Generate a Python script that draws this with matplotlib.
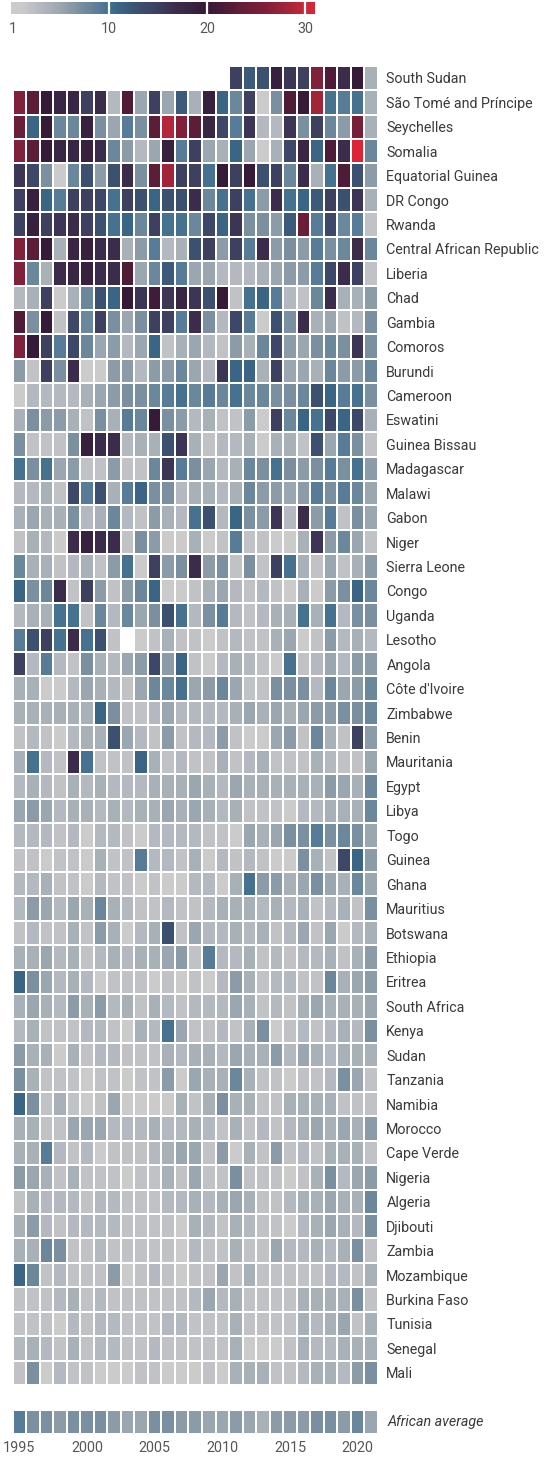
import numpy as np
import matplotlib
matplotlib.use("Agg")
import matplotlib.pyplot as plt
from matplotlib.colors import LinearSegmentedColormap
from matplotlib import font_manager

nan = np.nan
years = list(range(1995, 2022))
year_ticks = [1995, 2000, 2005, 2010, 2015, 2020]

countries = [
    "South Sudan", "São Tomé and Príncipe", "Seychelles", "Somalia",
    "Equatorial Guinea", "DR Congo", "Rwanda", "Central African Republic",
    "Liberia", "Chad", "Gambia", "Comoros", "Burundi", "Cameroon", "Eswatini",
    "Guinea Bissau", "Madagascar", "Malawi", "Gabon", "Niger", "Sierra Leone",
    "Congo", "Uganda", "Lesotho", "Angola", "Côte d'Ivoire", "Zimbabwe",
    "Benin", "Mauritania", "Egypt", "Libya", "Togo", "Guinea", "Ghana",
    "Mauritius", "Botswana", "Ethiopia", "Eritrea", "South Africa", "Kenya",
    "Sudan", "Tanzania", "Namibia", "Morocco", "Cape Verde", "Nigeria",
    "Algeria", "Djibouti", "Zambia", "Mozambique", "Burkina Faso", "Tunisia",
    "Senegal", "Mali",
]

# one row per country, 1995..2021
scores = [
    [nan]*16 + [15, 12, 13, 19, 16, 15, 26, 22, 17, 20, 4],
    [26, 23, 20, 18, 18, 15, 17, 3, 22, 5, 15, 5, 12, 4, 19, 11, 8, 15, 1, 7, 22, 20, 28, 10, 9, 10, 4],
    [24, 11, 20, 8, 8, 19, 7, 5, 9, 7, 23, 29, 26, 23, 18, 14, 9, 16, 3, 3, 16, 7, 15, 8, 6, 25, 4],
    [26, 23, 20, 18, 18, 19, 17, 8, 6, 3, 5, 19, 9, 15, 5, 4, 11, 5, 1, 4, 14, 18, 11, 22, 17, 31, 8],
    [16, 14, 7, 1, 8, 13, 6, 13, 17, 7, 23, 28, 15, 15, 10, 20, 15, 20, 13, 15, 8, 17, 4, 10, 22, 13, 6],
    [15, 19, 11, 9, 15, 15, 14, 10, 15, 13, 11, 13, 13, 17, 8, 10, 15, 10, 6, 17, 10, 11, 12, 15, 13, 16, 4],
    [15, 19, 15, 16, 17, 15, 13, 10, 11, 8, 15, 10, 10, 8, 14, 11, 16, 7, 7, 6, 12, 24, 9, 14, 8, 9, 2],
    [26, 23, 20, 4, 18, 19, 17, 17, 4, 6, 9, 3, 4, 13, 15, 6, 15, 9, 17, 6, 7, 6, 9, 7, 8, 17, 8],
    [26, 8, 4, 17, 18, 19, 17, 17, 22, 5, 8, 12, 9, 5, 5, 3, 3, 3, 4, 5, 6, 6, 9, 14, 17, 15, 2],
    [3, 4, 15, 1, 4, 8, 13, 11, 20, 16, 21, 16, 18, 16, 13, 20, 2, 10, 11, 9, 3, 2, 8, 17, 4, 4, 6],
    [22, 7, 20, 2, 14, 8, 15, 7, 5, 7, 15, 15, 9, 17, 7, 3, 14, 9, 1, 13, 7, 17, 4, 5, 2, 3, 7],
    [26, 20, 15, 9, 14, 8, 5, 6, 3, 5, 11, 2, 4, 5, 3, 2, 6, 4, 8, 14, 6, 5, 7, 8, 7, 16, 7],
    [6, 2, 15, 7, 17, 1, 1, 6, 6, 3, 6, 6, 8, 5, 3, 16, 11, 11, 4, 15, 5, 5, 4, 8, 6, 6, 8],
    [1, 3, 3, 3, 3, 4, 5, 6, 7, 7, 8, 9, 10, 8, 9, 8, 10, 8, 8, 7, 7, 8, 13, 11, 9, 10, 7],
    [4, 7, 6, 6, 4, 2, 7, 4, 9, 8, 20, 7, 6, 3, 4, 2, 2, 6, 1, 15, 8, 11, 10, 14, 11, 14, 4],
    [7, 2, 2, 2, 7, 19, 17, 17, 3, 4, 4, 13, 16, 4, 2, 3, 3, 4, 1, 4, 4, 2, 13, 5, 9, 7, 2],
    [10, 7, 10, 5, 6, 2, 2, 6, 2, 2, 8, 16, 9, 7, 5, 3, 4, 8, 7, 10, 7, 6, 7, 9, 7, 10, 6],
    [3, 3, 4, 2, 14, 9, 13, 4, 9, 11, 7, 7, 3, 4, 4, 3, 4, 8, 6, 6, 5, 6, 9, 7, 9, 8, 5],
    [4, 5, 4, 4, 7, 3, 4, 8, 3, 2, 6, 4, 3, 10, 13, 3, 11, 7, 6, 16, 3, 17, 6, 9, 2, 7, 5],
    [2, 4, 3, 1, 17, 19, 17, 17, 2, 7, 6, 1, 1, 4, 1, 2, 9, 2, 2, 1, 1, 4, 16, 6, 8, 5, 2],
    [8, 4, 4, 2, 3, 4, 2, 6, 10, 1, 15, 6, 7, 17, 6, 7, 2, 7, 2, 15, 10, 4, 2, 5, 2, 4, 6],
    [11, 7, 8, 17, 2, 15, 6, 2, 6, 8, 11, 1, 1, 2, 4, 5, 3, 2, 3, 2, 1, 4, 1, 6, 7, 11, 8],
    [3, 4, 4, 10, 10, 2, 8, 3, 8, 5, 7, 13, 10, 3, 7, 9, 3, 2, 3, 4, 4, 10, 4, 10, 3, 7, 7],
    [9, 13, 15, 10, 17, 10, 13, 2, nan, 1, 2, 4, 2, 2, 1, 2, 3, 2, 2, 4, 5, 1, 2, 6, 3, 4, 3],
    [15, 3, 9, 3, 2, 7, 4, 3, 5, 6, 14, 6, 11, 2, 1, 3, 4, 3, 2, 1, 10, 2, 3, 5, 3, 6, 6],
    [4, 4, 1, 1, 3, 5, 4, 3, 2, 5, 8, 8, 10, 5, 6, 8, 5, 2, 2, 7, 7, 7, 3, 8, 5, 6, 8],
    [4, 4, 4, 4, 4, 4, 11, 7, 2, 2, 3, 5, 3, 3, 3, 3, 4, 5, 4, 5, 4, 5, 6, 6, 7, 7, 8],
    [2, 3, 2, 1, 3, 4, 4, 13, 5, 3, 2, 6, 2, 3, 3, 6, 2, 1, 1, 5, 6, 2, 8, 4, 2, 15, 6],
    [4, 10, 3, 2, 17, 10, 2, 2, 2, 11, 4, 2, 3, 2, 2, 4, 2, 3, 4, 2, 2, 2, 4, 3, 2, 2, 5],
    [3, 4, 3, 2, 4, 3, 4, 3, 3, 3, 4, 4, 4, 5, 4, 3, 5, 4, 4, 4, 4, 4, 4, 6, 5, 4, 8],
    [5, 6, 5, 3, 4, 4, 3, 4, 3, 4, 4, 5, 4, 5, 4, 3, 4, 2, 2, 2, 1, 3, 3, 4, 4, 4, 8],
    [3, 3, 3, 2, 3, 1, 3, 3, 2, 1, 3, 3, 3, 3, 2, 2, 1, 5, 4, 5, 7, 7, 9, 7, 8, 7, 5],
    [2, 2, 1, 2, 2, 1, 4, 2, 2, 9, 3, 3, 2, 4, 1, 3, 2, 3, 2, 1, 1, 7, 4, 2, 14, 11, 6],
    [3, 3, 4, 2, 2, 1, 3, 2, 2, 1, 2, 1, 1, 3, 3, 1, 4, 10, 6, 6, 4, 5, 7, 5, 4, 8, 5],
    [3, 6, 5, 3, 5, 4, 8, 4, 3, 2, 2, 3, 2, 2, 3, 4, 4, 4, 3, 4, 3, 4, 2, 3, 4, 2, 7],
    [2, 3, 2, 2, 4, 2, 6, 4, 1, 3, 4, 13, 2, 5, 3, 3, 4, 3, 4, 2, 3, 5, 2, 5, 1, 3, 4],
    [4, 4, 5, 3, 4, 2, 3, 4, 3, 4, 4, 5, 6, 2, 9, 3, 3, 4, 2, 3, 2, 3, 3, 4, 2, 4, 6],
    [11, 7, 5, 3, 4, 3, 1, 2, 2, 2, 1, 2, 1, 2, 1, 3, 6, 4, 2, 3, 3, 2, 2, 8, 4, 5, 6],
    [4, 5, 4, 3, 6, 4, 6, 3, 4, 2, 4, 3, 2, 3, 3, 3, 5, 4, 2, 3, 2, 4, 5, 4, 4, 4, 5],
    [3, 4, 2, 2, 2, 3, 3, 2, 1, 4, 3, 10, 5, 2, 2, 3, 2, 4, 7, 1, 2, 3, 2, 3, 4, 3, 7],
    [6, 4, 4, 1, 4, 2, 3, 3, 2, 2, 2, 4, 3, 4, 4, 3, 5, 4, 4, 6, 3, 5, 4, 3, 4, 4, 4],
    [7, 4, 2, 2, 2, 1, 2, 2, 1, 2, 2, 6, 1, 5, 4, 4, 8, 4, 2, 2, 1, 2, 2, 3, 7, 5, 2],
    [11, 7, 2, 4, 2, 1, 2, 5, 1, 1, 1, 1, 4, 2, 4, 7, 4, 4, 2, 2, 4, 4, 4, 4, 2, 2, 2],
    [4, 4, 2, 2, 5, 5, 5, 3, 3, 3, 4, 3, 3, 4, 3, 2, 4, 2, 3, 2, 3, 4, 5, 4, 5, 4, 6],
    [4, 4, 9, 3, 2, 3, 1, 2, 2, 2, 3, 4, 5, 5, 2, 6, 1, 4, 2, 6, 2, 3, 2, 4, 4, 4, 2],
    [6, 5, 4, 2, 4, 2, 2, 2, 1, 2, 2, 4, 2, 5, 2, 2, 7, 2, 2, 2, 1, 2, 4, 7, 3, 5, 6],
    [2, 4, 3, 3, 3, 2, 3, 3, 2, 2, 2, 3, 3, 4, 3, 4, 5, 4, 2, 2, 3, 4, 4, 5, 4, 4, 8],
    [4, 6, 3, 2, 3, 3, 3, 3, 2, 2, 2, 2, 1, 4, 3, 2, 4, 3, 2, 2, 1, 3, 4, 5, 4, 3, 7],
    [4, 4, 8, 7, 2, 2, 3, 2, 2, 2, 2, 2, 1, 3, 2, 2, 4, 2, 2, 5, 3, 3, 4, 3, 4, 7, 2],
    [11, 8, 2, 3, 2, 2, 2, 6, 1, 2, 3, 2, 1, 2, 2, 5, 2, 4, 2, 2, 2, 2, 2, 3, 3, 2, 4],
    [2, 2, 2, 3, 4, 2, 3, 2, 2, 2, 2, 2, 2, 3, 5, 3, 4, 2, 2, 2, 2, 4, 4, 4, 4, 7, 2],
    [2, 2, 2, 1, 3, 2, 3, 3, 2, 2, 2, 3, 3, 2, 2, 2, 4, 2, 2, 2, 2, 4, 3, 4, 5, 2, 4],
    [3, 4, 3, 2, 4, 2, 3, 3, 2, 2, 3, 2, 2, 2, 2, 2, 4, 1, 1, 1, 2, 4, 3, 3, 4, 4, 4],
    [2, 7, 1, 3, 2, 2, 1, 1, 1, 2, 2, 1, 1, 1, 2, 1, 4, 4, 4, 2, 2, 3, 4, 4, 3, 6, 7],
]

african_average = [9, 7, 7, 6, 7, 7, 7, 6, 5, 5, 7, 7, 6, 6, 5, 5, 6, 5, 4, 6, 6, 6, 7, 7, 6, 8, 5]

scale_ticks = [1, 10, 20, 30]

# gray -> steel blue -> dark purple -> red
nodes = [
    (1, "#cbcbcb"), (3, "#b4b8c0"), (5, "#9aa6b0"), (7, "#7a90a0"),
    (9, "#587c98"), (10.5, "#3b6a8a"), (13, "#3c5070"), (15, "#3e4060"),
    (17, "#3c2c4c"), (20, "#341b38"), (22, "#4e1c38"), (24, "#6a1e38"),
    (26, "#80203a"), (28, "#a02438"), (30, "#c8283c"), (31, "#dc2439"),
]
vmin, vmax = 1, 31
cmap = LinearSegmentedColormap.from_list(
    "fragility", [((v - vmin) / (vmax - vmin), c) for v, c in nodes])

installed = {f.name for f in font_manager.fontManager.ttflist}
family = [f for f in ["Liberation Sans Narrow", "Roboto", "DejaVu Sans"] if f in installed]
plt.rcParams["font.family"] = family
label_color = "#3a3a3a"
text_color = "#555555"

W, H = 552, 1460
fig = plt.figure(figsize=(W / 100, H / 100), dpi=100)

def box(x0, y0, x1, y1):
    return [x0 / W, 1 - y1 / H, (x1 - x0) / W, (y1 - y0) / H]

# main grid
ax = fig.add_axes(box(12.5, 65.7, 378, 1385))
data = np.ma.masked_invalid(np.array(scores, dtype=float))
xe = np.arange(len(years) + 1) + years[0] - 0.5
ye = np.arange(len(countries) + 1)
ax.pcolormesh(xe, ye, data, cmap=cmap, vmin=vmin, vmax=vmax,
              edgecolor="white", linewidth=1.4)
ax.set_xlim(xe[0], xe[-1])
ax.set_ylim(len(countries), 0)
ax.yaxis.tick_right()
ax.set_yticks(np.arange(len(countries)) + 0.5)
ax.set_yticklabels(countries, fontsize=10.3, color=label_color)
ax.tick_params(axis="y", length=0, pad=6)
ax.set_xticks([])
for s in ax.spines.values():
    s.set_visible(False)

# african average strip
axa = fig.add_axes(box(12.5, 1410, 378, 1434))
axa.pcolormesh(xe, [0, 1], np.array([african_average], dtype=float), cmap=cmap,
               vmin=vmin, vmax=vmax, edgecolor="white", linewidth=1.4)
axa.set_xlim(xe[0], xe[-1])
axa.set_ylim(1, 0)
axa.set_yticks([])
axa.set_xticks(year_ticks)
axa.set_xticklabels([str(y) for y in year_ticks], fontsize=10.3, color=text_color)
axa.tick_params(axis="x", length=0, pad=5)
for s in axa.spines.values():
    s.set_visible(False)
axa.text(1.025, 0.5, "African average", transform=axa.transAxes, ha="left",
         va="center", fontsize=10.3, style="italic", color=label_color)

# colour scale
axc = fig.add_axes(box(11, 2, 315, 14))
grad = np.linspace(0, 31, 400)[None, :]
axc.imshow(grad, cmap=cmap, vmin=vmin, vmax=vmax, aspect="auto",
           extent=(0, 31, 0, 1))
for v in scale_ticks[1:]:
    axc.axvline(v, color="white", lw=1.6)
axc.set_xlim(0, 31)
axc.set_ylim(0, 1)
axc.set_xticks([0.15] + scale_ticks[1:])
axc.set_xticklabels([str(v) for v in scale_ticks], fontsize=10.3, color=text_color)
axc.tick_params(axis="x", length=0, pad=6)
axc.set_yticks([])
for s in axc.spines.values():
    s.set_visible(False)

fig.savefig("out.png", dpi=100, facecolor="white")
